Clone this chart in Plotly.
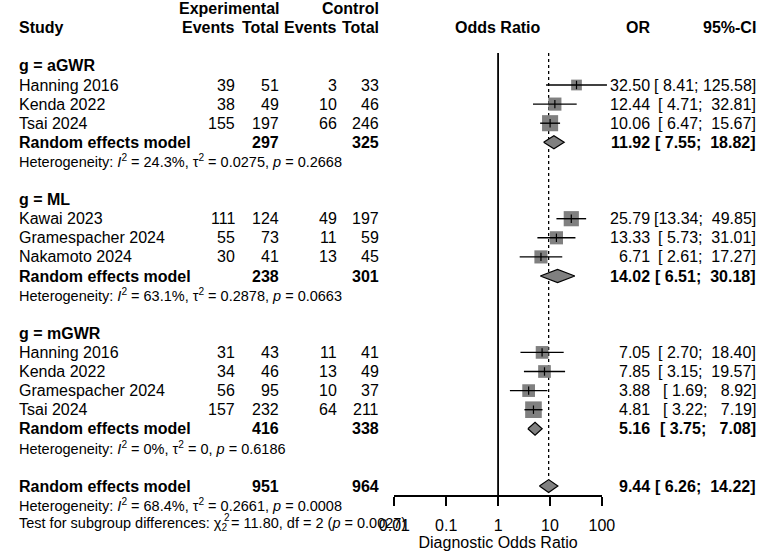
import plotly.graph_objects as go

W, H = 778, 555
FONT = "Liberation Sans, Arial, Helvetica, sans-serif"
NB = "\u00a0"

# ---------------- data ----------------
group_labels = ["aGWR", "ML", "mGWR"]
study_names = ["Hanning 2016", "Kenda 2022", "Tsai 2024",
               "Kawai 2023", "Gramespacher 2024", "Nakamoto 2024",
               "Hanning 2016", "Kenda 2022", "Gramespacher 2024", "Tsai 2024"]
study_group = [0, 0, 0, 1, 1, 1, 2, 2, 2, 2]
exp_events = [39, 38, 155, 111, 55, 30, 31, 34, 56, 157]
exp_total = [51, 49, 197, 124, 73, 41, 43, 46, 95, 232]
ctrl_events = [3, 10, 66, 49, 11, 13, 11, 13, 10, 64]
ctrl_total = [33, 46, 246, 197, 59, 45, 41, 49, 37, 211]
study_or = [32.50, 12.44, 10.06, 25.79, 13.33, 6.71, 7.05, 7.85, 3.88, 4.81]
study_lower = [8.41, 4.71, 6.47, 13.34, 5.73, 2.61, 2.70, 3.15, 1.69, 3.22]
study_upper = [125.58, 32.81, 15.67, 49.85, 31.01, 17.27, 18.40, 19.57, 8.92, 7.19]
study_weight = [20, 30, 45, 40, 30, 30, 28, 28, 28, 48]  # relative weights (square size)

pooled_or = [11.92, 14.02, 5.16]
pooled_lower = [7.55, 6.51, 3.75]
pooled_upper = [18.82, 30.18, 7.08]
pooled_exp_total = [297, 238, 416]
pooled_ctrl_total = [325, 301, 338]
het_i2 = ["24.3%", "63.1%", "0%"]
het_tau2 = ["0.0275", "0.2878", "0"]
het_p = ["0.2668", "0.0663", "0.6186"]

overall_or = 9.44
overall_lower = 6.26
overall_upper = 14.22
overall_exp_total = 951
overall_ctrl_total = 964
overall_i2 = "68.4%"
overall_tau2 = "0.2661"
overall_p = "0.0008"
test_chi2 = "11.80"
test_df = 2
test_p = "0.0027"

tick_vals = [0.01, 0.1, 1, 10, 100]
tick_text = ["0.01", "0.1", "1", "10", "100"]

# ---------------- layout geometry ----------------
ROW0_PX = 85.0      # pixel y of first study row
ROW_H = 19.1        # pixel height of a row
AX_L, AX_R = 393.0, 608.5   # pixels of 0.01 and 100
DEC = (AX_R - AX_L) / 4.0
AXIS_PX = 496.0
DIA_H = 0.34

def prow(py):
    return (py - ROW0_PX) / ROW_H

# assign rows
study_rows = []
group_rows = []
pooled_rows = []
het_rows = []
r = -1
for g in range(len(group_labels)):
    group_rows.append(r)
    r += 1
    for i, sg in enumerate(study_group):
        if sg == g:
            study_rows.append(r)
            r += 1
    pooled_rows.append(r)
    het_rows.append(r + 1)
    r += 3
overall_row = r
overall_het_row = overall_row + 1
test_row = overall_row + 2

annotations = []

def txt(s, px, row, anchor="left", bold=False, size=16):
    annotations.append(dict(
        text=f"<b>{s}</b>" if bold else s,
        x=px / W, xref="paper", y=row, yref="y",
        xanchor=anchor, yanchor="middle", showarrow=False,
        font=dict(family=FONT, size=size, color="black")))

X_STUDY = 1
X_EE, X_ET, X_CE, X_CT = 230, 275, 335, 379
X_OR = 661
X_CI_R = 771

# headers
txt("Experimental", X_ET, -4, "right", True)
txt("Control", X_CT, -4, "right", True)
txt("Study", X_STUDY, -3, "left", True)
txt("Events", X_EE, -3, "right", True)
txt("Total", X_ET, -3, "right", True)
txt("Events", X_CE, -3, "right", True)
txt("Total", X_CT, -3, "right", True)
txt("Odds Ratio", (AX_L + AX_R) / 2, -3, "center", True)
txt("OR", X_OR, -3, "right", True)
txt("95%-CI", X_CI_R, -3, "right", True)

all_lower = study_lower + pooled_lower + [overall_lower]
all_upper = study_upper + pooled_upper + [overall_upper]
LW = max(len(f"{v:.2f}") for v in all_lower)
UW = max(len(f"{v:.2f}") for v in all_upper)

def ci_text(row, o, lo, up, bold=False):
    txt(f"{o:.2f}", X_OR, row, "right", bold)
    los = f"{lo:.2f}".rjust(LW).replace(" ", NB)
    ups = f"{up:.2f}".rjust(UW).replace(" ", NB)
    txt(f"[{los};{NB}{ups}]", X_CI_R, row, "right", bold)

def het_text(row, i2, tau2, p):
    txt(f"Heterogeneity: <i>I</i><sup>2</sup> = {i2}, τ<sup>2</sup> = {tau2}, <i>p</i> = {p}",
        X_STUDY, row, "left", False, 14.5)

for g in range(len(group_labels)):
    txt(f"g = {group_labels[g]}", X_STUDY, group_rows[g], "left", True)
    txt("Random effects model", X_STUDY, pooled_rows[g], "left", True)
    txt(str(pooled_exp_total[g]), X_ET, pooled_rows[g], "right", True)
    txt(str(pooled_ctrl_total[g]), X_CT, pooled_rows[g], "right", True)
    ci_text(pooled_rows[g], pooled_or[g], pooled_lower[g], pooled_upper[g], True)
    het_text(het_rows[g], het_i2[g], het_tau2[g], het_p[g])

for i, name in enumerate(study_names):
    rw = study_rows[i]
    txt(name, X_STUDY, rw, "left")
    txt(str(exp_events[i]), X_EE, rw, "right")
    txt(str(exp_total[i]), X_ET, rw, "right")
    txt(str(ctrl_events[i]), X_CE, rw, "right")
    txt(str(ctrl_total[i]), X_CT, rw, "right")
    ci_text(rw, study_or[i], study_lower[i], study_upper[i])

txt("Random effects model", X_STUDY, overall_row, "left", True)
txt(str(overall_exp_total), X_ET, overall_row, "right", True)
txt(str(overall_ctrl_total), X_CT, overall_row, "right", True)
ci_text(overall_row, overall_or, overall_lower, overall_upper, True)
het_text(overall_het_row, overall_i2, overall_tau2, overall_p)
txt(f"Test for subgroup differences: χ<sub>2</sub> = {test_chi2}, df = {test_df} (<i>p</i> = {test_p})",
    X_STUDY, test_row, "left", False, 14.5)
annotations.append(dict(text="2", x=214 / W, xref="paper", y=test_row - 0.36, yref="y",
                        xanchor="left", yanchor="middle", showarrow=False,
                        font=dict(family=FONT, size=10, color="black")))

# ---------------- traces ----------------
fig = go.Figure()
LINE_TOP = prow(53)
AX_ROW = prow(AXIS_PX)

# reference lines
fig.add_trace(go.Scatter(x=[1, 1], y=[LINE_TOP, AX_ROW], mode="lines",
                         line=dict(color="black", width=1.8), hoverinfo="skip"))
fig.add_trace(go.Scatter(x=[overall_or, overall_or], y=[LINE_TOP, overall_row - DIA_H], mode="lines",
                         line=dict(color="black", width=1.3, dash="dot"), hoverinfo="skip"))

# squares
sizes = [2.4 * (w ** 0.5) for w in study_weight]
fig.add_trace(go.Scatter(x=study_or, y=study_rows, mode="markers",
                         marker=dict(symbol="square", size=sizes, color="#808080", opacity=1,
                                     line=dict(width=0)), hoverinfo="skip"))
# CI lines
cx, cy = [], []
for i in range(len(study_or)):
    cx += [study_lower[i], study_upper[i], None]
    cy += [study_rows[i], study_rows[i], None]
fig.add_trace(go.Scatter(x=cx, y=cy, mode="lines", line=dict(color="black", width=1.4),
                         hoverinfo="skip"))
fig.add_trace(go.Scatter(x=study_or, y=study_rows, mode="markers",
                         marker=dict(symbol="line-ns", size=6, line=dict(color="black", width=1.2)),
                         hoverinfo="skip"))

# diamonds
def diamond(o, lo, up, row):
    fig.add_trace(go.Scatter(x=[lo, o, up, o, lo], y=[row, row - DIA_H, row, row + DIA_H, row],
                             mode="lines", fill="toself", fillcolor="#808080",
                             line=dict(color="black", width=1.2), hoverinfo="skip"))

for g in range(len(group_labels)):
    diamond(pooled_or[g], pooled_lower[g], pooled_upper[g], pooled_rows[g])
diamond(overall_or, overall_lower, overall_upper, overall_row)

# dummy trace for the visible axis
fig.add_trace(go.Scatter(x=[1], y=[-100], xaxis="x2", yaxis="y", mode="markers",
                         marker=dict(opacity=0), hoverinfo="skip"))

L0 = -2 - AX_L / DEC
L1 = 2 + (W - AX_R) / DEC

fig.update_layout(
    width=W, height=H, autosize=False,
    margin=dict(l=0, r=0, t=0, b=0),
    paper_bgcolor="white", plot_bgcolor="rgba(0,0,0,0)",
    showlegend=False,
    font=dict(family=FONT, size=16, color="black"),
    xaxis=dict(type="log", range=[L0, L1], domain=[0, 1], visible=False),
    yaxis=dict(range=[prow(H), prow(0)], domain=[0, 1], visible=False),
    xaxis2=dict(type="log", range=[-2, 2], domain=[AX_L / W, AX_R / W],
                anchor="free", position=1 - AXIS_PX / H,
                showline=True, linecolor="black", linewidth=1.6,
                ticks="outside", ticklen=9, tickwidth=1.6, tickcolor="black",
                tickvals=tick_vals, ticktext=tick_text, ticklabelstandoff=6,
                tickfont=dict(family=FONT, size=16, color="black"),
                showgrid=False, zeroline=False,
                title=dict(text="Diagnostic Odds Ratio", standoff=2,
                           font=dict(family=FONT, size=16, color="black"))),
    annotations=annotations,
)

fig.write_html("out.html")
